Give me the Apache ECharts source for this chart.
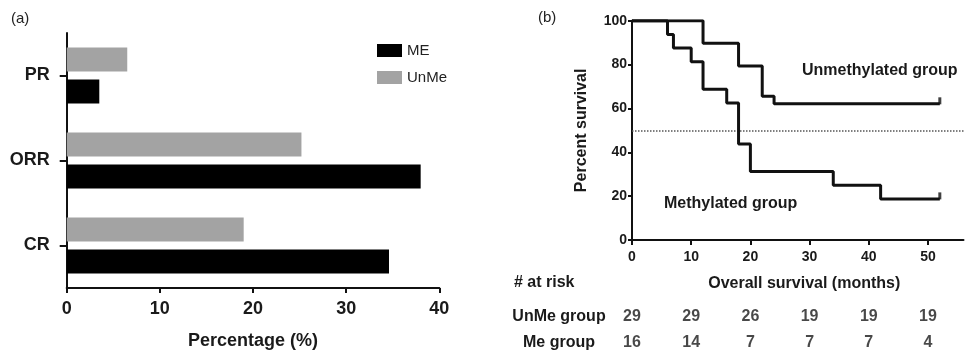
<!DOCTYPE html>
<html><head><meta charset="utf-8">
<script src="https://cdn.jsdelivr.net/npm/echarts@6/dist/echarts.min.js"></script>
<style>html,body{margin:0;padding:0;background:#fff}#c{width:966px;height:350px}</style>
</head><body><div id="c"></div>
<script>
// Panel (a) data
const responseCats = ['CR', 'ORR', 'PR'];
const meValues = [34.6, 38.0, 3.5];
const unmeValues = [19.0, 25.2, 6.5];
const pctTicks = [0, 10, 20, 30, 40];

// Panel (b) Kaplan-Meier steps [month, percent survival]
const unmeSurvival = [[0,100],[12,89.7],[18,79.3],[22,65.5],[24,62.1],[52,62.1]];
const meSurvival = [[0,100],[6,93.75],[7,87.5],[10,81.25],[12,68.75],[16,62.5],[18,43.75],[20,31.25],[34,25],[42,18.75],[52,18.75]];
const censorUnme = [[52,62.1]];
const censorMe = [[52,18.75]];
const medianLine = 50;
const monthTicks = [0, 10, 20, 30, 40, 50];
const survTicks = [0, 20, 40, 60, 80, 100];

// At-risk table
const riskRows = ['UnMe group', 'Me group'];
const riskTimes = [0, 10, 20, 30, 40, 50];
const unmeAtRisk = [29, 29, 26, 19, 19, 19];
const meAtRisk = [16, 14, 7, 7, 7, 4];

const FONT = 'Liberation Sans';
const riskData = [];
riskTimes.forEach((t, i) => {
  riskData.push([t, riskRows[0], unmeAtRisk[i]]);
  riskData.push([t, riskRows[1], meAtRisk[i]]);
});

const chart = echarts.init(document.getElementById('c'), null, {renderer: 'canvas'});
const boldLabel = (size) => ({fontFamily: FONT, fontWeight: 'bold', fontSize: size, color: '#1a1a1a'});

chart.setOption({
  animation: false,
  backgroundColor: '#fff',
  textStyle: {fontFamily: FONT},
  graphic: [
    {type: 'text', left: 11, top: 11, style: {text: '(a)', font: '15px ' + FONT, fill: '#222'}},
    {type: 'text', left: 538, top: 10, style: {text: '(b)', font: '15px ' + FONT, fill: '#222'}},
    {type: 'text', left: 514, top: 275, style: {text: '# at risk', font: 'bold 16px ' + FONT, fill: '#1a1a1a'}},
    {type: 'text', left: 802, top: 63, style: {text: 'Unmethylated group', font: 'bold 16px ' + FONT, fill: '#1a1a1a'}},
    {type: 'text', left: 664, top: 196, style: {text: 'Methylated group', font: 'bold 16px ' + FONT, fill: '#1a1a1a'}}
  ],
  legend: {
    data: ['ME', 'UnMe'],
    orient: 'vertical',
    left: 377, top: 43, padding: 0,
    itemWidth: 25, itemHeight: 13, itemGap: 12,
    textStyle: {fontFamily: FONT, fontSize: 15, color: '#222'},
    icon: 'rect'
  },
  grid: [
    {left: 66.7, right: 526.7, top: 33, height: 255, outerBoundsMode: 'none', containLabel: false},
    {left: 632, right: 2.5, top: 20.7, height: 219.3, outerBoundsMode: 'none', containLabel: false},
    {left: 632, right: 2.5, top: 304, height: 52, outerBoundsMode: 'none', containLabel: false}
  ],
  xAxis: [
    {
      gridIndex: 0, type: 'value', min: 0, max: 40, interval: 10,
      axisLine: {show: true, lineStyle: {color: '#111', width: 2}},
      axisTick: {show: true, length: 5, lineStyle: {color: '#111', width: 2}, customValues: pctTicks},
      axisLabel: Object.assign(boldLabel(18), {margin: 12, customValues: pctTicks}),
      splitLine: {show: false},
      name: 'Percentage (%)', nameLocation: 'middle', nameGap: 44,
      nameTextStyle: boldLabel(18)
    },
    {
      gridIndex: 1, type: 'value', min: 0, max: 56,
      axisLine: {show: true, lineStyle: {color: '#111', width: 2}},
      axisTick: {show: true, length: 5, lineStyle: {color: '#111', width: 2}, customValues: monthTicks},
      axisLabel: Object.assign(boldLabel(14), {margin: 10, customValues: monthTicks}),
      splitLine: {show: false},
      name: 'Overall survival (months)', nameLocation: 'middle', nameGap: 36,
      nameTextStyle: Object.assign(boldLabel(16), {padding: [0, 0, 0, 13]})
    },
    {gridIndex: 2, type: 'value', min: 0, max: 56, show: false}
  ],
  yAxis: [
    {
      gridIndex: 0, type: 'category', data: responseCats,
      axisLine: {show: true, lineStyle: {color: '#111', width: 2}},
      axisTick: {show: true, alignWithLabel: true, length: 7, lineStyle: {color: '#111', width: 2}},
      axisLabel: Object.assign(boldLabel(18), {margin: 17}),
      splitLine: {show: false}
    },
    {
      gridIndex: 1, type: 'value', min: 0, max: 100, interval: 20,
      axisLine: {show: true, lineStyle: {color: '#111', width: 2}},
      axisTick: {show: true, length: 4, lineStyle: {color: '#111', width: 2}},
      axisLabel: Object.assign(boldLabel(14), {margin: 5, customValues: survTicks}),
      splitLine: {show: false},
      name: 'Percent survival', nameLocation: 'middle', nameGap: 42,
      nameTextStyle: boldLabel(16)
    },
    {
      gridIndex: 2, type: 'category', data: riskRows, inverse: true,
      axisLine: {show: false}, axisTick: {show: false},
      axisLabel: Object.assign(boldLabel(16), {margin: 73, align: 'center'})
    }
  ],
  series: [
    {
      name: 'UnMe', type: 'bar', xAxisIndex: 0, yAxisIndex: 0, data: unmeValues,
      barWidth: 24, barGap: '33%', itemStyle: {color: '#a3a3a3'}
    },
    {
      name: 'ME', type: 'bar', xAxisIndex: 0, yAxisIndex: 0, data: meValues,
      barWidth: 24, barGap: '33%', itemStyle: {color: '#000'}
    },
    {
      name: 'Unmethylated', type: 'line', xAxisIndex: 1, yAxisIndex: 1, data: unmeSurvival,
      step: 'end', showSymbol: false, symbol: 'none',
      lineStyle: {color: '#111', width: 3}, z: 5,
      markLine: {
        silent: true, symbol: 'none', label: {show: false},
        lineStyle: {type: 'dotted', color: '#555', width: 1.5},
        data: [{yAxis: medianLine}]
      }
    },
    {
      name: 'Methylated', type: 'line', xAxisIndex: 1, yAxisIndex: 1, data: meSurvival,
      step: 'end', showSymbol: false, symbol: 'none',
      lineStyle: {color: '#111', width: 3}, z: 5
    },
    {
      type: 'scatter', xAxisIndex: 1, yAxisIndex: 1, data: censorUnme.concat(censorMe),
      symbol: 'rect', symbolSize: [3, 7], symbolOffset: [0, -3], itemStyle: {color: '#111'}, z: 6
    },
    {
      type: 'scatter', xAxisIndex: 2, yAxisIndex: 2, data: riskData,
      symbolSize: 1, itemStyle: {color: 'transparent'},
      label: {show: true, position: 'inside', formatter: p => String(p.value[2]),
        fontFamily: FONT, fontWeight: 'bold', fontSize: 16, color: '#1a1a1a'}
    }
  ]
});
</script>
</body></html>
